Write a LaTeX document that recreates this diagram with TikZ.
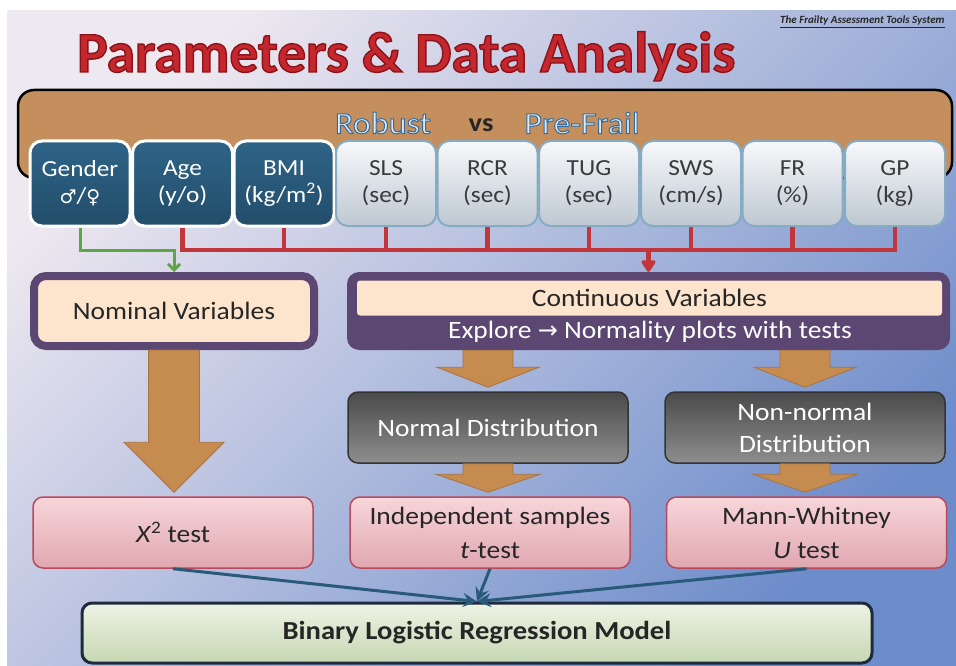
\documentclass[tikz,border=0pt]{standalone}
\usepackage{fontspec}
\setmainfont{Carlito}[FakeStretch=1.1]
\newfontfamily\titlefont{Carlito}
\newfontfamily\symfont{DejaVu Sans}
\usetikzlibrary{arrows.meta,calc}
\definecolor{bgA}{HTML}{EEE8F0}
\definecolor{bgB}{HTML}{A9C6E6}
\definecolor{bgC}{HTML}{6D8CCA}
\definecolor{titlered}{HTML}{C4282E}
\definecolor{bannerfill}{HTML}{C48F5C}
\definecolor{dboxA}{HTML}{2F6487}
\definecolor{dboxB}{HTML}{224D6A}
\definecolor{lboxA}{HTML}{F7F8FA}
\definecolor{lboxB}{HTML}{BEC8D2}
\definecolor{lightborder}{HTML}{86ACC4}
\definecolor{lboxtext}{HTML}{3A3A3A}
\definecolor{redline}{HTML}{C2353B}
\definecolor{greenline}{HTML}{5EA544}
\definecolor{purplebox}{HTML}{5C4672}
\definecolor{peach}{HTML}{FDE4CC}
\definecolor{arrowbrown}{HTML}{C68B4F}
\definecolor{arrowedge}{HTML}{A8733F}
\definecolor{pinkA}{HTML}{F7D6DA}
\definecolor{pinkB}{HTML}{E0A7AF}
\definecolor{pinkborder}{HTML}{B84A5E}
\definecolor{greenA}{HTML}{EEF3E5}
\definecolor{greenB}{HTML}{C6D7B2}
\definecolor{navy}{HTML}{1E2B3C}
\definecolor{tealline}{HTML}{2A5A7A}
\definecolor{robustfill}{HTML}{DCEBF7}
\definecolor{distA}{HTML}{4A4A4A}
\definecolor{distB}{HTML}{8E8E8E}
\definecolor{textdark}{HTML}{262626}
% outlined text: fill in current colour, stroke with given rgb and width
\newcommand\outlinedtext[3]{\special{pdf:literal direct #1 RG #2 w 2 Tr}#3\special{pdf:literal direct 0 Tr}}
\tikzset{
  topbox/.style={rounded corners=12pt, minimum width=100pt, minimum height=85pt,
    inner sep=0pt, align=center, font=\fontsize{23}{27}\selectfont},
  darkbox/.style={topbox, top color=dboxA, bottom color=dboxB, draw=white,
    line width=3pt, text=white},
  lightbox/.style={topbox, top color=lboxA, bottom color=lboxB, draw=lightborder,
    line width=2pt, text=lboxtext},
  bannerbox/.style={rounded corners=16pt, fill=bannerfill, draw=black, line width=2.5pt,
    minimum width=934pt, minimum height=88pt, inner sep=0pt},
  nombox/.style={rounded corners=12pt, fill=peach, draw=purplebox, line width=8pt,
    minimum width=280pt, minimum height=70pt, inner sep=0pt, text=textdark,
    font=\fontsize{25}{30}\selectfont},
  distbox/.style={rounded corners=10pt, top color=distA, bottom color=distB,
    draw=black!80, line width=1.5pt, minimum width=280pt, minimum height=71pt,
    inner sep=0pt, text=white, align=center, font=\fontsize{25}{32}\selectfont},
  testbox/.style={rounded corners=10pt, top color=pinkA, bottom color=pinkB,
    draw=pinkborder, line width=1.5pt, minimum width=280pt, minimum height=71pt,
    inner sep=0pt, text=textdark, align=center, font=\fontsize{25}{34}\selectfont},
  finalbox/.style={rounded corners=10pt, top color=greenA, bottom color=greenB,
    draw=navy, line width=3pt, minimum width=790pt, minimum height=60pt,
    inner sep=0pt, text=textdark, font=\fontsize{26}{30}\selectfont\bfseries},
  redlink/.style={draw=redline, line width=4.5pt},
  redarrow/.style={redlink, -{Triangle[round,length=13pt,width=16pt]}},
  greenarrow/.style={draw=greenline, line width=3pt, -{Straight Barb[length=6pt,width=12pt]}},
  bluearrow/.style={draw=tealline, line width=3pt, -{Stealth[length=14pt,width=14pt,inset=5pt]}},
  brownarrow/.style={fill=arrowbrown, draw=arrowedge, line width=0.8pt},
  titletext/.style={anchor=base west, inner sep=0pt, font=\titlefont\bfseries\fontsize{57.5}{60}\selectfont},
  rvtext/.style={font=\fontsize{31}{34}\selectfont},
}
\newcommand\blockarrow[5]{%
  \filldraw[brownarrow] ($(#1)+(-#3,0)$) -- ($(#1 |- #2)+(-#3,-#5-4)$)
    -- ($(#1 |- #2)+(-#4,-#5-4)$) -- ($(#1 |- #2)+(0,-4)$)
    -- ($(#1 |- #2)+(#4,-#5-4)$) -- ($(#1 |- #2)+(#3,-#5-4)$)
    -- ($(#1)+(#3,0)$) -- cycle;}
\begin{document}
\begin{tikzpicture}[x=1pt,y=-1pt]
\useasboundingbox (0,0) rectangle (956,666);
\fill[white] (0,0) rectangle (956,666);
\shade[top color=bgA, middle color=bgB, bottom color=bgC, shading angle=45] (7,11) rectangle (956,666);

% brand line
\node[anchor=base west, inner sep=0pt, text=textdark,
  font=\titlefont\fontsize{11}{14}\selectfont\bfseries\itshape] (brand) at (780,24)
  {\underline{The Frailty Assessment Tools System}};

% title
\node[titletext, text=titlered] (title) at (77,72)
  {\outlinedtext{0.55 0.08 0.1}{1.4}{Parameters \& Data Analysis}};

% banner
\node[bannerbox] (banner) at (485,134) {};
\node[rvtext, text=robustfill] (robust) at (383,123) {\outlinedtext{0.2 0.42 0.62}{1.0}{Robust}};
\node[rvtext, text=robustfill] (prefrail) at (582,123) {\outlinedtext{0.2 0.42 0.62}{1.0}{Pre-Frail}};
\node[font=\fontsize{26}{30}\selectfont\bfseries, text=textdark] (vs) at (481,125) {vs};

% parameter boxes
\node[darkbox] (gender) at (80,183.5) {Gender\\{\symfont\fontsize{19}{27}\selectfont ♂}/{\symfont\fontsize{19}{27}\selectfont ♀}};
\node[darkbox] (age) at (182.5,183.5) {Age\\(y/o)};
\node[darkbox] (bmi) at (284,183.5) {BMI\\(kg/m\textsuperscript{2})};
\node[lightbox] (sls) at (386,183.5) {SLS\\(sec)};
\node[lightbox] (rcr) at (487.5,183.5) {RCR\\(sec)};
\node[lightbox] (tug) at (589,183.5) {TUG\\(sec)};
\node[lightbox] (sws) at (691,183.5) {SWS\\(cm/s)};
\node[lightbox] (fr) at (792.5,183.5) {FR\\(\%)};
\node[lightbox] (gp) at (895,183.5) {GP\\(kg)};

% variable boxes
\node[nombox] (nominal) at (174,311) {Nominal Variables};
\node[fill=purplebox, rounded corners=12pt, minimum width=603pt, minimum height=78pt, inner sep=0pt] (continuous) at (648.5,311) {};
\node[fill=peach, rounded corners=3pt, minimum width=585pt, minimum height=35pt, inner sep=0pt,
  text=textdark, font=\fontsize{25}{30}\selectfont] (cvtitle) at (649.5,298) {Continuous Variables};
\node[text=white, font=\fontsize{25}{30}\selectfont] (explore) at (650,332)
  {Explore {\symfont\fontsize{24}{30}\selectfont →} Normality plots with tests};

% connectors from parameters
\coordinate (bus) at (648.5,250);
\draw[greenarrow] (gender.south) |- (nominal.north |- bus) -- (nominal.north);
\draw[redlink] (age.south) |- (bus);
\draw[redlink] (bus) -| (gp.south);
\foreach \n in {bmi,sls,rcr,tug,sws,fr}
  \draw[redlink] (\n.south) -- (\n.south |- bus);
\draw[redarrow] (bus) -- (continuous.north);

% distribution boxes
\node[distbox] (normal) at (488,427.5) {Normal Distribution};
\node[distbox] (nonnormal) at (805,427.5) {Non-normal\\Distribution};

% tests
\node[testbox] (x2) at (173,532.5) {\textit{X}\textsuperscript{2} test};
\node[testbox] (ttest) at (490,532.5) {Independent samples\\\textit{t}-test};
\node[testbox] (utest) at (806.5,532.5) {Mann-Whitney\\\textit{U} test};

% block arrows
\blockarrow{nominal.south}{x2.north}{25.5}{50}{50}
\blockarrow{normal.north |- continuous.south}{normal.north}{25}{51}{20}
\blockarrow{nonnormal.north |- continuous.south}{nonnormal.north}{25}{51}{20}
\blockarrow{normal.south}{ttest.north}{25}{52}{18}
\blockarrow{nonnormal.south}{utest.north}{25}{52}{18}

% final
\node[finalbox] (blr) at (477,633) {Binary Logistic Regression Model};
\draw[bluearrow] (x2.south) -- (blr.north);
\draw[bluearrow] (ttest.south) -- (blr.north);
\draw[bluearrow] (utest.south) -- (blr.north);
\end{tikzpicture}
\end{document}
